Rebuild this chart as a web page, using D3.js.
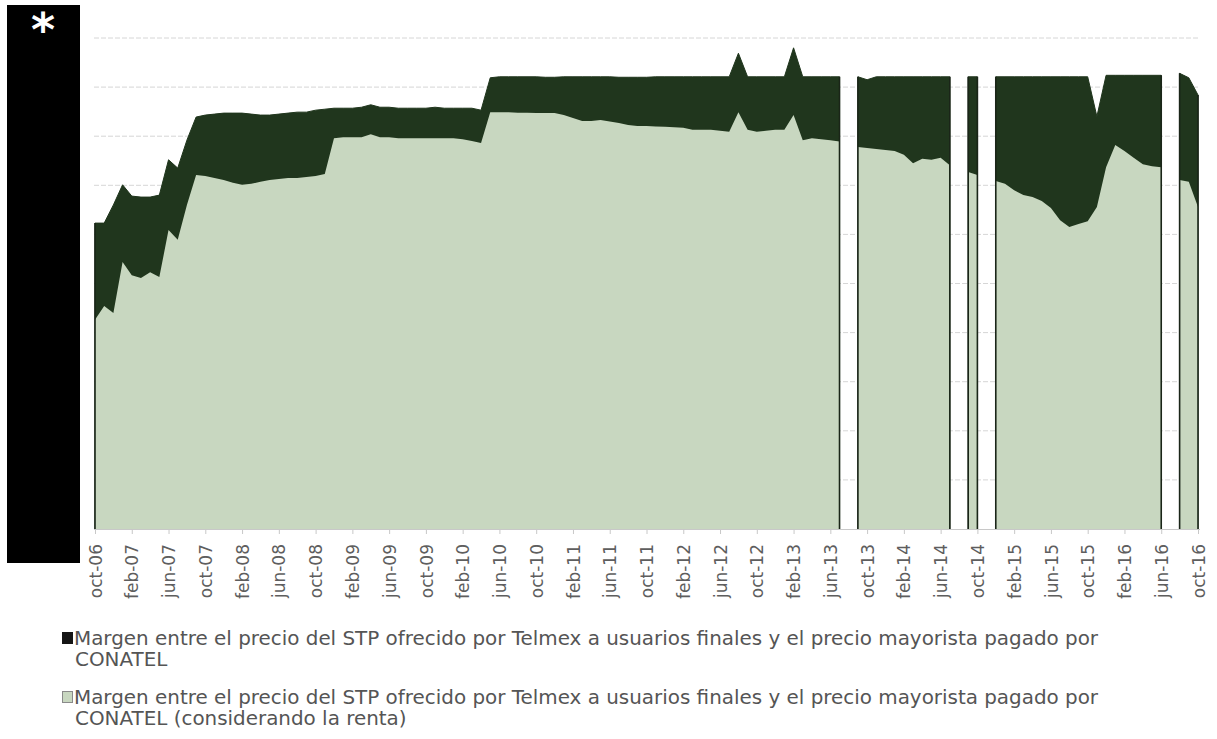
<!DOCTYPE html>
<html>
<head>
<meta charset="utf-8">
<script src="https://cdn.jsdelivr.net/npm/d3@7"></script>
<style>
  html, body { margin: 0; padding: 0; background: #ffffff; }
  svg { display: block; }
</style>
</head>
<body>
<svg id="chart" width="1217" height="739"></svg>
<script>
// ---- Data (values in arbitrary units; the real axis is redacted) ----
const monthNames = ["ene","feb","mar","abr","may","jun","jul","ago","sep","oct","nov","dic"];
const startYear = 2006, startMonth = 9, monthCount = 121; // oct-06 .. oct-16

// Margen (sin renta) – dark series
const margenConatel = [
  62.3, 62.3, 66.0, 70.1, 67.8, 67.6, 67.6, 68.0, 75.2, 73.5, 79.2, 83.9,
  84.3, 84.5, 84.7, 84.7, 84.7, 84.5, 84.3, 84.3, 84.5, 84.7, 84.9, 84.9,
  85.3, 85.5, 85.7, 85.7, 85.7, 85.9, 86.4, 85.9, 85.9, 85.7, 85.7, 85.7,
  85.7, 85.9, 85.7, 85.7, 85.7, 85.7, 85.3, 91.9, 92.1, 92.1, 92.1, 92.1,
  92.1, 92.0, 92.0, 92.1, 92.1, 92.1, 92.1, 92.1, 92.1, 92.0, 92.0, 92.0,
  92.0, 92.1, 92.1, 92.1, 92.1, 92.1, 92.1, 92.1, 92.1, 92.1, 96.9, 92.1,
  92.1, 92.1, 92.1, 92.1, 98.0, 92.1, 92.1, 92.1, 92.1, 92.1, null, 92.1,
  91.5, 92.1, 92.1, 92.1, 92.1, 92.1, 92.1, 92.1, 92.1, 92.1, null, 92.1,
  92.1, null, 92.1, 92.1, 92.1, 92.1, 92.1, 92.1, 92.1, 92.1, 92.1, 92.1,
  92.1, 84.0, 92.4, 92.4, 92.4, 92.4, 92.4, 92.4, 92.4, null, 92.8, 91.9,
  88.4
];

// Margen considerando la renta – light series
const margenRenta = [
  42.6, 45.4, 44.0, 54.4, 51.7, 51.1, 52.3, 51.3, 60.9, 58.9, 66.0, 72.1,
  71.9, 71.5, 71.1, 70.5, 70.1, 70.3, 70.7, 71.1, 71.3, 71.5, 71.5, 71.7,
  71.9, 72.3, 79.6, 79.8, 79.8, 79.8, 80.4, 79.8, 79.8, 79.6, 79.6, 79.6,
  79.6, 79.6, 79.6, 79.6, 79.4, 79.0, 78.6, 84.9, 84.9, 84.9, 84.8, 84.8,
  84.7, 84.7, 84.7, 84.3, 83.7, 83.1, 83.1, 83.3, 83.0, 82.7, 82.3, 82.1,
  82.1, 82.0, 81.9, 81.8, 81.7, 81.3, 81.3, 81.3, 81.1, 80.9, 84.9, 81.3,
  80.9, 81.1, 81.3, 81.3, 84.3, 79.2, 79.6, 79.4, 79.2, 78.9, null, 77.8,
  77.6, 77.4, 77.2, 77.0, 76.2, 74.5, 75.4, 75.2, 75.6, 74.1, null, 72.7,
  72.1, null, 70.9, 70.3, 69.0, 68.0, 67.6, 66.8, 65.4, 62.9, 61.5, 62.1,
  62.7, 65.6, 73.7, 78.2, 77.0, 75.6, 74.3, 73.9, 73.7, null, 71.1, 70.7,
  65.6
];

const gridValues = [10, 20, 30, 40, 50, 60, 70, 80, 90, 100];

const legendTexts = [
  ["Margen entre el precio del STP ofrecido por Telmex a usuarios finales y el precio mayorista pagado por", "CONATEL"],
  ["Margen entre el precio del STP ofrecido por Telmex a usuarios finales y el precio mayorista pagado por", "CONATEL (considerando la renta)"]
];

// categories (month labels)
const categories = d3.range(monthCount).map(i => {
  const m = (startMonth + i) % 12;
  const y = startYear + Math.floor((startMonth + i) / 12);
  return monthNames[m] + "-" + String(y % 100).padStart(2, "0");
});
const tickLabels = categories.filter((d, i) => i % 4 === 0);

// ---- Layout ----
const svg = d3.select("#chart");
const DARK = "#20361d", LIGHT = "#c8d7c0";
const x = d3.scalePoint().domain(categories).range([95, 1198]);
const y = d3.scaleLinear().domain([0, 100]).range([529, 38]);

// gridlines
svg.append("g").selectAll("line").data(gridValues).join("line")
  .attr("x1", 94).attr("x2", 1200)
  .attr("y1", d => y(d)).attr("y2", d => y(d))
  .attr("stroke", "#d6d6d6").attr("stroke-width", 1)
  .attr("stroke-dasharray", "5,2");

const rows = categories.map((c, i) => ({ c, dark: margenConatel[i], light: margenRenta[i] }));

const areaDark = d3.area().defined(d => d.dark != null)
  .x(d => x(d.c)).y0(y(0)).y1(d => y(d.dark));
const areaLight = d3.area().defined(d => d.light != null)
  .x(d => x(d.c)).y0(y(0)).y1(d => y(d.light));

svg.append("path").datum(rows).attr("d", areaDark)
  .attr("fill", DARK).attr("stroke", DARK).attr("stroke-width", 1).attr("stroke-linejoin", "round");
svg.append("path").datum(rows).attr("d", areaLight)
  .attr("fill", LIGHT);

// vertical edges of each run of data
const edges = [];
rows.forEach((d, i) => {
  if (d.dark == null) return;
  const prev = i > 0 ? rows[i - 1].dark : null;
  const next = i < rows.length - 1 ? rows[i + 1].dark : null;
  if (prev == null || next == null) edges.push(d);
});
svg.append("g").selectAll("line").data(edges).join("line")
  .attr("x1", d => x(d.c)).attr("x2", d => x(d.c))
  .attr("y1", y(0)).attr("y2", d => y(d.dark))
  .attr("stroke", "#1a2518").attr("stroke-width", 1.6);

// x axis
const xAxis = d3.axisBottom(x).tickValues(tickLabels).tickSize(5).tickSizeOuter(0).tickFormat(d => d);
const gx = svg.append("g").attr("transform", `translate(0,${y(0)})`).call(xAxis);
gx.select(".domain").attr("stroke", "#c8c8c8").attr("d", "M94,0.5H1200");
gx.selectAll(".tick line").attr("stroke", "#c8c8c8");
gx.selectAll(".tick text")
  .attr("transform", "rotate(-90)")
  .attr("text-anchor", "end")
  .attr("x", -15).attr("y", 0).attr("dy", "0.36em")
  .attr("fill", "#5e5e5e")
  .style("font-family", "'DejaVu Sans', sans-serif")
  .style("font-size", "17px");

// redaction box
svg.append("rect").attr("x", 7).attr("y", 5).attr("width", 73).attr("height", 558).attr("fill", "#000");
svg.append("text").attr("x", 43).attr("y", 46).attr("text-anchor", "middle")
  .attr("fill", "#fff").style("font-family", "'DejaVu Sans', sans-serif")
  .style("font-weight", "bold").style("font-size", "46px").text("*");

// legend
const legendY = [645, 704];
const legendFills = ["#151515", LIGHT];
const legendStrokes = ["#151515", "#8a8a8a"];
legendTexts.forEach((lines, k) => {
  const g = svg.append("g");
  g.append("rect").attr("x", 62.5).attr("y", legendY[k] - 12.5).attr("width", 10).attr("height", 11)
    .attr("fill", legendFills[k]).attr("stroke", legendStrokes[k]).attr("stroke-width", 1);
  lines.forEach((t, j) => {
    g.append("text").attr("x", j === 0 ? 74 : 75).attr("y", legendY[k] + j * 21)
      .attr("fill", "#555").style("font-family", "'DejaVu Sans', sans-serif")
      .style("font-size", "16px").text(t);
  });
});
// fit legend font to reference width (first line spans ~1024px)
const first = svg.selectAll("g text").filter(function () { return this.textContent.startsWith("Margen"); });
const w = first.node().getComputedTextLength();
const fs = 16 * 1024 / w;
svg.selectAll("g text").filter(function () { return this.textContent.startsWith("Margen") || this.textContent.startsWith("CONATEL"); })
  .style("font-size", fs.toFixed(2) + "px");
</script>
</body>
</html>
